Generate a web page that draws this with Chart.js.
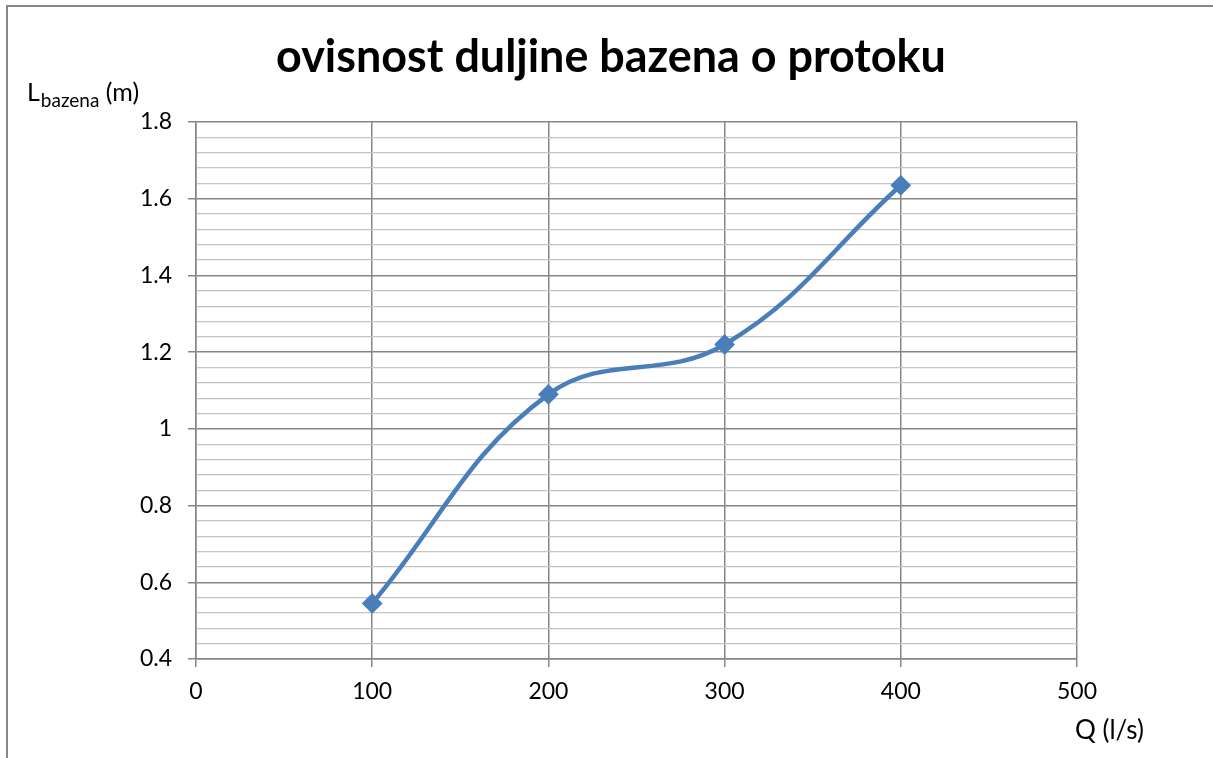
<!DOCTYPE html>
<html><head><meta charset="utf-8">
<script src="https://cdn.jsdelivr.net/npm/chart.js@4/dist/chart.umd.min.js"></script>
<style>html,body{margin:0;padding:0;background:#fff;overflow:hidden}</style>
</head><body>
<canvas id="c" width="1213" height="758" style="display:block;width:1213px;height:758px"></canvas>
<script>
// ---- data ----
const flowQ = [100, 200, 300, 400];
const lengthL = [0.545, 1.09, 1.22, 1.635];
const xTickValues = [0, 100, 200, 300, 400, 500];
const yMajorTicks = [0.4, 0.6, 0.8, 1.0, 1.2, 1.4, 1.6, 1.8];
const yMinorStep = 0.04;
const titleText = 'ovisnost duljine bazena o protoku';
const yTitleMain = 'L';
const yTitleSub = 'bazena';
const yTitleUnit = ' (m)';
const xTitleText = 'Q (l/s)';

const FONT = 'Lato, "Open Sans", sans-serif';
const MAJOR = '#868686', MINOR = '#c4c4c4', LINE = '#4a7ebb';

function isMajor(v){ return yMajorTicks.some(m => Math.abs(m - v) < 1e-6); }

const deco = {
  id: 'deco',
  afterDraw(chart){
    const ctx = chart.ctx;
    ctx.save();
    // outer border (top + left)
    ctx.strokeStyle = MAJOR; ctx.lineWidth = 2;
    ctx.beginPath(); ctx.moveTo(7, 760); ctx.lineTo(7, 6); ctx.lineTo(1215, 6); ctx.stroke();
    // title fitted to width
    let fs = 40;
    ctx.font = 'bold ' + fs + 'px ' + FONT;
    fs = fs * 670 / ctx.measureText(titleText).width;
    ctx.font = 'bold ' + fs + 'px ' + FONT;
    ctx.fillStyle = '#000'; ctx.textAlign = 'center'; ctx.textBaseline = 'alphabetic';
    ctx.fillText(titleText, 611, 72);
    // y title with subscript
    ctx.textAlign = 'left';
    ctx.font = '25px ' + FONT;
    ctx.fillText(yTitleMain, 27, 101);
    let x = 27 + ctx.measureText(yTitleMain).width + 1;
    ctx.font = '19px ' + FONT;
    ctx.fillText(yTitleSub, x, 107);
    x += ctx.measureText(yTitleSub).width;
    ctx.font = '25px ' + FONT;
    ctx.fillText(yTitleUnit, x, 101);
    // x title
    ctx.font = '26px ' + FONT;
    ctx.fillText(xTitleText, 1075, 739);
    ctx.restore();
  }
};

new Chart(document.getElementById('c'), {
  type: 'scatter',
  data: {
    datasets: [{
      data: flowQ.map((q, i) => ({x: q, y: lengthL[i]})),
      showLine: true,
      borderColor: LINE,
      backgroundColor: LINE,
      borderWidth: 4.5,
      tension: 0.4,
      pointStyle: 'rectRot',
      pointRadius: 9,
      pointHoverRadius: 9,
      pointBorderWidth: 2,
      pointBorderColor: LINE,
      pointBackgroundColor: LINE
    }]
  },
  options: {
    responsive: false,
    animation: false,
    events: [],
    layout: { padding: { left: 0, top: 122, right: 136, bottom: 59 } },
    plugins: { legend: { display: false }, tooltip: { enabled: false }, title: { display: false } },
    scales: {
      x: {
        type: 'linear', min: xTickValues[0], max: xTickValues[xTickValues.length - 1],
        afterFit(s){ s.height = 40; },
        afterBuildTicks(s){ s.ticks = xTickValues.map(v => ({value: v})); },
        border: { color: MAJOR, width: 1.5 },
        grid: { color: MAJOR, lineWidth: 1.5, tickLength: 8, tickColor: MAJOR },
        ticks: { color: '#000', font: { family: FONT, size: 23 }, padding: 11, autoSkip: false, maxRotation: 0,
                 callback: v => String(v) }
      },
      y: {
        type: 'linear', min: yMajorTicks[0], max: yMajorTicks[yMajorTicks.length - 1],
        afterFit(s){ s.width = 196; },
        border: { color: MAJOR, width: 1.5 },
        grid: {
          color: c => isMajor(c.tick.value) ? MAJOR : MINOR,
          lineWidth: c => isMajor(c.tick.value) ? 1.5 : 1.2,
          tickLength: 8,
          tickColor: c => isMajor(c.tick.value) ? MAJOR : 'rgba(0,0,0,0)'
        },
        ticks: { stepSize: yMinorStep, color: '#000', font: { family: FONT, size: 23 }, padding: 16, autoSkip: false,
                 callback: v => isMajor(v) ? String(Math.round(v * 10) / 10) : '' }
      }
    }
  },
  plugins: [deco]
});
</script>
</body></html>
